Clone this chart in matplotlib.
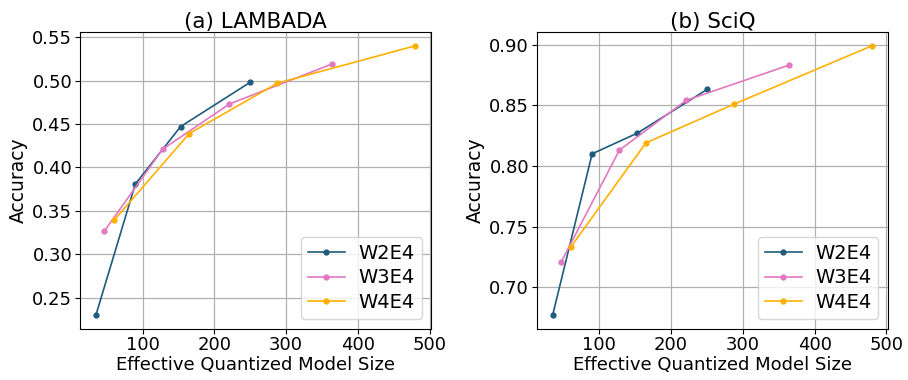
import matplotlib
matplotlib.use('Agg')
import matplotlib.pyplot as plt

labels = ['W2E4', 'W3E4', 'W4E4']
colors = ['#1f5b7c', '#e377c2', '#ffb000']

# effective quantized model size per config
size_w2 = [35, 90, 153, 250]
size_w3 = [47, 128, 221, 364]
size_w4 = [60, 165, 288, 480]

lambada_w2 = [0.230, 0.381, 0.447, 0.498]
lambada_w3 = [0.327, 0.421, 0.473, 0.519]
lambada_w4 = [0.339, 0.439, 0.497, 0.540]

sciq_w2 = [0.677, 0.810, 0.827, 0.863]
sciq_w3 = [0.721, 0.813, 0.854, 0.883]
sciq_w4 = [0.733, 0.819, 0.851, 0.899]

sizes = [size_w2, size_w3, size_w4]
panels = [
    ('(a) LAMBADA', [lambada_w2, lambada_w3, lambada_w4], [0.25, 0.30, 0.35, 0.40, 0.45, 0.50, 0.55]),
    ('(b) SciQ', [sciq_w2, sciq_w3, sciq_w4], [0.70, 0.75, 0.80, 0.85, 0.90]),
]

fig, axes = plt.subplots(1, 2, figsize=(9.08, 3.8), dpi=100)

for ax, (title, accs, yticks) in zip(axes, panels):
    for x, y, lab, c in zip(sizes, accs, labels, colors):
        ax.plot(x, y, marker='o', markersize=3.5, linewidth=1.2, color=c, label=lab)
    ax.set_title(title, fontsize=15.5, pad=3)
    ax.set_xlabel('Effective Quantized Model Size', fontsize=13, labelpad=1)
    ax.set_ylabel('Accuracy', fontsize=13.5, labelpad=3)
    ax.set_xticks([100, 200, 300, 400, 500])
    ax.set_yticks(yticks)
    ax.set_yticklabels(['%.2f' % t for t in yticks])
    ax.tick_params(labelsize=13, pad=2)
    ax.grid(True, color='#b0b0b0', linewidth=0.9)
    ax.legend(loc='lower right', fontsize=14, handlelength=1.9, labelspacing=0.3,
              borderpad=0.35, handletextpad=0.7)

plt.subplots_adjust(left=0.088, right=0.978, bottom=0.135, top=0.915, wspace=0.30)
plt.savefig('out.png')
